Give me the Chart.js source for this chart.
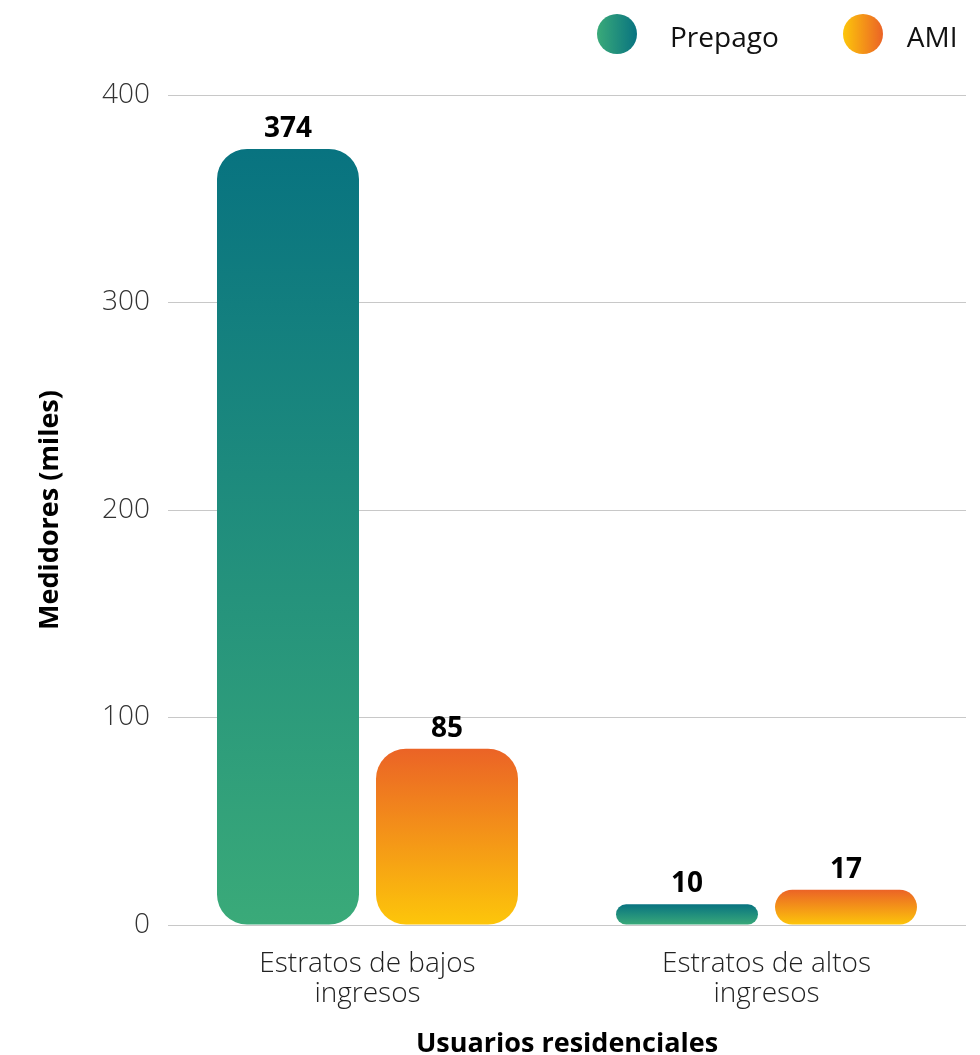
<!DOCTYPE html>
<html>
<head>
<meta charset="utf-8">
<script src="https://cdn.jsdelivr.net/npm/chart.js@4"></script>
<style>
  html, body { margin: 0; padding: 0; background: #fff; }
  #wrap { position: relative; width: 980px; height: 1055px; }
  #legend { position: absolute; top: 12px; left: 597px; display: flex; align-items: center;
    font-family: "Open Sans", sans-serif; font-size: 28px; color: #111; }
  .item { display: flex; align-items: center; margin-right: 64px; }
  .item span { padding-top: 5px; }
  .dot { width: 40px; height: 40px; border-radius: 50%; margin-right: 33px; }
  .item + .item .dot { margin-right: 24px; }
</style>
</head>
<body>
<div id="wrap">
  <canvas id="meterChart" width="980" height="1055"></canvas>
  <div id="legend"></div>
</div>
<script>
const categories = [["Estratos de bajos", "ingresos"], ["Estratos de altos", "ingresos"]];
const seriesNames = ["Prepago", "AMI"];
const prepagoValues = [374, 10];
const amiValues = [85, 17];
const yTicks = [0, 100, 200, 300, 400];

// top colour, bottom colour of each series gradient
const prepagoColors = ["#087380", "#3aaa79"];
const amiColors = ["#eb6326", "#fdc60a"];

const lightFont = "'Open Sans', sans-serif";
const boldFont = "'Open Sans', sans-serif";

const padLeft = 34;

function barGradient(colors) {
  return (ctx) => {
    const chart = ctx.chart;
    if (!chart.chartArea) return colors[0];
    const y = chart.scales.y;
    const top = y.getPixelForValue(ctx.raw);
    const base = y.getPixelForValue(0);
    const g = chart.ctx.createLinearGradient(0, top, 0, base);
    g.addColorStop(0, colors[0]);
    g.addColorStop(1, colors[1]);
    return g;
  };
}

// value labels over every bar
const valueLabels = {
  id: "valueLabels",
  afterDatasetsDraw(chart) {
    const c = chart.ctx;
    c.save();
    c.font = "bold 28px " + boldFont;
    c.fillStyle = "#000";
    c.textAlign = "center";
    c.textBaseline = "bottom";
    chart.data.datasets.forEach((ds, i) => {
      chart.getDatasetMeta(i).data.forEach((bar, j) => {
        c.fillText(ds.data[j], bar.x, bar.y - 6);
      });
    });
    c.restore();
  }
};

const chart = new Chart(document.getElementById("meterChart"), {
  type: "bar",
  data: {
    labels: categories,
    datasets: [
      {
        label: seriesNames[0],
        data: prepagoValues,
        backgroundColor: barGradient(prepagoColors),
        borderRadius: 30,
        borderSkipped: false
      },
      {
        label: seriesNames[1],
        data: amiValues,
        backgroundColor: barGradient(amiColors),
        borderRadius: 30,
        borderSkipped: false
      }
    ]
  },
  options: {
    responsive: false,
    animation: false,
    layout: { padding: { top: 95, left: padLeft, right: 14, bottom: 0 } },
    categoryPercentage: 0.797,
    barPercentage: 0.893,
    plugins: {
      legend: { display: false },
      tooltip: { enabled: false }
    },
    scales: {
      x: {
        afterFit(scale) { scale.height = 130; },
        grid: { display: false },
        border: { display: false },
        ticks: {
          font: { family: lightFont, size: 28, weight: 300, lineHeight: 1.07 },
          color: "#222",
          padding: 16
        },
        title: {
          display: true,
          text: "Usuarios residenciales",
          font: { family: boldFont, size: 27, weight: "bold", lineHeight: 1 },
          color: "#000",
          padding: { top: 0, bottom: -3 }
        }
      },
      y: {
        min: 0,
        max: 400,
        afterFit(scale) { scale.width = 168 - padLeft; },
        afterBuildTicks(scale) { scale.ticks = yTicks.map(v => ({ value: v })); },
        border: { display: false },
        grid: { color: "#c8c8c8", lineWidth: 1, drawTicks: false },
        ticks: {
          font: { family: lightFont, size: 28, weight: 300 },
          color: "#333",
          padding: 18
        },
        title: {
          display: true,
          text: "Medidores (miles)",
          font: { family: boldFont, size: 27, weight: "bold" },
          color: "#000",
          padding: 0
        }
      }
    }
  },
  plugins: [valueLabels]
});

// legend with gradient dots
const legendColors = [
  "linear-gradient(90deg, " + prepagoColors[1] + ", " + prepagoColors[0] + ")",
  "linear-gradient(90deg, " + amiColors[1] + ", " + amiColors[0] + ")"
];
const legendEl = document.getElementById("legend");
seriesNames.forEach((name, i) => {
  const item = document.createElement("div");
  item.className = "item";
  const dot = document.createElement("div");
  dot.className = "dot";
  dot.style.background = legendColors[i];
  const txt = document.createElement("span");
  txt.innerText = name;
  item.appendChild(dot);
  item.appendChild(txt);
  legendEl.appendChild(item);
});
</script>
</body>
</html>
